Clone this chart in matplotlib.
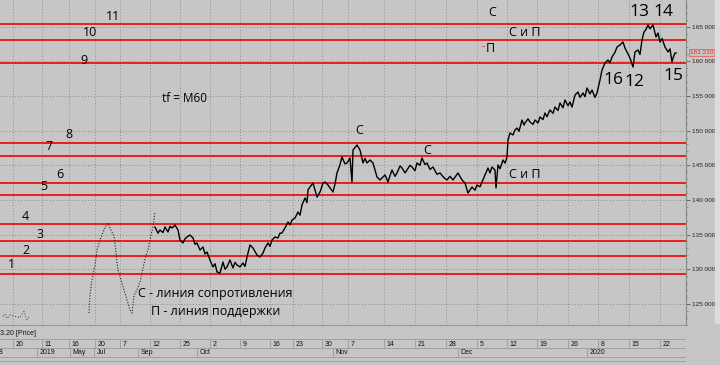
import matplotlib
matplotlib.use('Agg')
import matplotlib.pyplot as plt
from matplotlib.patches import Rectangle

# уровни (тыс.)
urovni = [165.4, 163.05, 159.75, 148.2, 146.4, 142.5, 140.75, 136.55, 134.0, 131.9, 129.3]

# ранняя часть графика (редкие точки)
rannie_x = [89, 90, 92, 95, 97, 100, 103, 106, 108, 110, 112, 114, 115, 117, 118, 121, 124,
            127, 130, 132, 134, 137, 140, 143, 146, 148, 151, 153, 155]
rannie_p = [123.68, 126.28, 128.45, 130.61, 132.77, 134.22, 135.37, 136.24, 136.67, 135.95,
            135.37, 134.80, 133.79, 131.04, 129.89, 128.45, 127.00, 125.56, 124.12, 123.68,
            126.28, 127.00, 128.16, 130.18, 132.05, 132.77, 134.94, 136.09, 138.26]
hvost_x = [3, 5, 7, 10, 20, 22, 24, 26, 27, 30]
hvost_p = [123.2, 123.5, 122.9, 123.4, 123.0, 123.5, 123.9, 123.1, 122.7, 123.3]

# основная часть
cena_x = [155, 158, 160, 163, 165, 168, 170, 172, 175, 178, 180, 183, 185, 187, 190, 193, 195,
          197, 200, 203, 205, 207, 210, 213, 215, 217, 220, 223, 225, 227, 230, 233, 235, 237,
          240, 243, 245, 247, 250, 253, 257, 260, 263, 265, 268, 270, 272, 275, 278, 280, 282,
          285, 288, 290, 292, 295, 298, 300, 302, 305, 307, 308, 310, 313, 317, 320, 323, 325,
          328, 333, 335, 337, 340, 342, 345, 347, 350, 352, 353, 357, 360, 363, 365, 367, 370,
          373, 377, 380, 385, 388, 390, 392, 395, 397, 400, 402, 405, 407, 410, 412, 415, 417,
          420, 422, 425, 427, 430, 433, 437, 440, 444, 447, 450, 453, 458, 462, 465, 468, 472,
          475, 477, 480, 482, 485, 488, 490, 492, 495, 496, 498, 500, 503, 505, 507, 508, 510,
          513, 515, 517, 519, 522, 524, 525, 528, 530, 533, 535, 538, 540, 543, 545, 547, 550,
          553, 555, 558, 560, 563, 565, 568, 570, 572, 575, 578, 580, 583, 585, 587, 590, 592,
          595, 597, 600, 602, 605, 608, 610, 612, 615, 617, 620, 623, 625, 627, 630, 633, 635,
          638, 640, 642, 644, 646, 648, 650, 653, 656, 658, 660, 662, 665, 668, 670, 672, 673,
          675, 676]
cena_p = [136.09, 135.2, 135.66, 135.3, 136.09, 135.37, 136.2, 135.95, 136.38, 135.66, 134.22,
          133.79, 134.4, 134.65, 134.94, 134.51, 133.6, 133.79, 132.77, 133.21, 132.2, 132.49,
          131.33, 130.32, 130.8, 129.60, 129.46, 131.04, 130.0, 130.32, 131.33, 130.18, 131.0,
          130.61, 130.32, 130.90, 130.4, 131.76, 133.50, 133.06, 132.05, 131.76, 132.34, 133.06,
          133.79, 133.3, 134.22, 134.65, 134.51, 135.2, 135.23, 135.95, 136.82, 136.4, 137.10,
          137.39, 138.26, 137.8, 139.27, 140.28, 139.6, 141.43, 141.87, 142.44, 140.42, 141.14,
          142.44, 142.59, 142.15, 141.14, 142.3, 143.89, 145.1, 146.19, 145.2, 145.33, 146.05,
          142.59, 147.20, 147.93, 147.20, 145.33, 146.0, 145.33, 145.76, 145.33, 143.31, 142.88,
          143.60, 142.59, 143.5, 144.32, 143.4, 143.89, 144.9, 144.61, 143.9, 144.32, 145.0,
          144.75, 144.2, 145.33, 145.0, 146.05, 145.1, 145.33, 144.4, 144.75, 143.7, 143.89,
          143.2, 142.88, 143.4, 142.88, 143.89, 142.88, 142.44, 141.00, 141.87, 141.4, 142.15,
          141.9, 142.59, 143.60, 144.61, 143.9, 144.75, 144.32, 141.72, 145.04, 144.5, 145.76,
          145.3, 146.19, 148.65, 149.66, 149.37, 150.1, 150.38, 149.9, 151.53, 150.8, 151.10,
          151.7, 151.25, 150.9, 151.53, 151.1, 151.97, 151.6, 152.54, 152.0, 152.98, 152.5,
          153.41, 152.9, 153.99, 153.3, 154.42, 153.6, 154.13, 153.4, 155.14, 155.57, 154.8,
          155.43, 154.9, 156.15, 155.3, 155.86, 154.8, 155.43, 157.31, 158.75, 159.76, 160.19,
          159.8, 160.62, 161.3, 162.07, 162.36, 162.79, 161.9, 161.35, 160.48, 159.18, 161.35,
          161.63, 161.0, 163.08, 164.23, 164.6, 165.24, 164.7, 165.24, 163.51, 164.09, 162.79,
          163.3, 162.07, 161.35, 161.8, 159.90, 160.48, 161.20, 161.21]
posl_cena = 161.21

# шкала дат
nedeli_x = [13, 42, 69, 95, 120, 150, 180, 210, 240, 270, 293, 322, 348, 384, 415, 446, 477,
            507, 537, 568, 598, 629, 660]
nedeli = ['20', '11', '16', '20', '7', '12', '25', '2', '9', '16', '23', '30', '7', '14', '21',
          '28', '5', '12', '19', '26', '8', '15', '22']
mesyacy_x = [0, 37, 70, 94, 138, 197, 333, 458, 587]
mesyacy = ['8', '2019', 'May', 'Jul', 'Sep', 'Oct', 'Nov', 'Dec', '2020']

W, H = 720, 365
FON = '#c6c6c6'
SHRIFT = ['Open Sans', 'DejaVu Sans']


def nadpis(fig, x, y, s, size=9, **kw):
    fig.text(x / W, 1 - y / H, s, fontsize=size, family=SHRIFT, ha=kw.pop('ha', 'center'),
             va='center', **kw)


def main():
    fig = plt.figure(figsize=(W / 100, H / 100), dpi=100, facecolor=FON)
    # светлая полоса справа
    fig.patches.append(Rectangle((715 / W, 42 / H), 5 / W, 323 / H, transform=fig.transFigure,
                                 color='#dcdcdc', zorder=0))

    ax = fig.add_axes([0, 40 / H, 686 / W, 325 / H], facecolor=FON)
    ax.set_xlim(0, 686)
    ax.set_ylim(121.95, 168.85)

    for x in nedeli_x:
        ax.axvline(x, color='#8c8c8c', lw=0.7, ls=(0, (1, 2)), zorder=1)
    for y in range(125, 170, 5):
        ax.axhline(y, color='#8c8c8c', lw=0.7, ls=(0, (1, 2)), zorder=1)
    for u in urovni:
        ax.axhline(u, color='#ee1c1c', lw=1.4, zorder=2)

    ax.plot(hvost_x, hvost_p, color='#333333', lw=0.7, ls=(0, (1, 2)), zorder=3)
    ax.plot(rannie_x, rannie_p, color='#222222', lw=0.8, ls=(0, (1, 1.5)), zorder=3)
    ax.plot(cena_x, cena_p, color='black', lw=1.0, zorder=4)

    ax.yaxis.tick_right()
    ax.set_yticks(range(125, 170, 5))
    ax.set_yticks([v for v in range(122, 169) if v % 5], minor=True)
    ax.set_yticklabels([f'{v} 000' for v in range(125, 170, 5)], fontsize=4.6,
                       family='Liberation Sans', color='#222222')
    ax.tick_params(axis='y', which='major', length=3, width=0.6, color='#555555', pad=1.2)
    ax.tick_params(axis='y', which='minor', length=1.5, width=0.5, color='#777777')
    ax.set_xticks([])
    for s in ['top', 'left']:
        ax.spines[s].set_visible(False)
    ax.spines['right'].set_color('#888888')
    ax.spines['bottom'].set_color('#999999')

    ax.text(1.006, posl_cena, f'{posl_cena:.3f}'.replace('.', ' '), transform=ax.get_yaxis_transform(),
            fontsize=4.6, family='Liberation Sans', color='#e82020', va='center', ha='left',
            bbox=dict(boxstyle='square,pad=0.15', fc=FON, ec='#e85050', lw=0.5))

    # шкала дат
    axd = fig.add_axes([0, 0, 686 / W, 40 / H], facecolor=FON)
    axd.set_xlim(0, 686)
    axd.set_ylim(40, 0)
    axd.axis('off')
    for y in [14, 23, 32, 36]:
        axd.plot([0, 686], [y, y], color='#9a9a9a', lw=0.6)
    for x, t in zip(nedeli_x, nedeli):
        axd.plot([x, x], [14, 23], color='#9a9a9a', lw=0.6)
        axd.text(x + 2.5, 19, t, fontsize=5, family='Liberation Sans', va='center', color='#111111')
    for x, t in zip(mesyacy_x, mesyacy):
        if x > 0:
            axd.plot([x, x], [23, 32], color='#9a9a9a', lw=0.6)
        axd.text(x + 2.5 if x > 0 else -1, 28, t, fontsize=5, family='Liberation Sans',
                 va='center', color='#111111')
    axd.text(0, 8.5, '3.20 [Price]', fontsize=5, family='Liberation Sans', va='center',
             color='#111111')

    # подписи
    for x, y, s in [(113, 17, '11'), (90, 32, '10'), (84, 60, '9'), (69, 135, '8'),
                    (49, 146, '7'), (60, 175, '6'), (44, 187, '5'), (25, 216, '4'),
                    (40, 234, '3'), (26, 250, '2'), (11, 265, '1')]:
        nadpis(fig, x, y, s, 9)
    nadpis(fig, 185, 98, 'tf = M60', 8.5)
    nadpis(fig, 138, 293, 'С - линия сопротивления', 9, ha='left')
    nadpis(fig, 151, 311, 'П - линия поддержки', 9, ha='left')
    nadpis(fig, 359, 131, 'С', 9)
    nadpis(fig, 427, 150, 'С', 9)
    nadpis(fig, 509, 175, 'С и П', 9, ha='left')
    nadpis(fig, 492, 13, 'С', 9)
    nadpis(fig, 509, 32, 'С и П', 9, ha='left')
    nadpis(fig, 490, 49, 'П', 9)
    nadpis(fig, 483, 47, '-', 7, color='#ee1c1c')
    for x, y, s in [(639, 12, '13'), (663, 12, '14'), (613, 80, '16'), (634, 82, '12'),
                    (673, 76, '15')]:
        nadpis(fig, x, y, s, 12.5)

    fig.savefig('out.png', dpi=100, facecolor=FON)


if __name__ == '__main__':
    main()
